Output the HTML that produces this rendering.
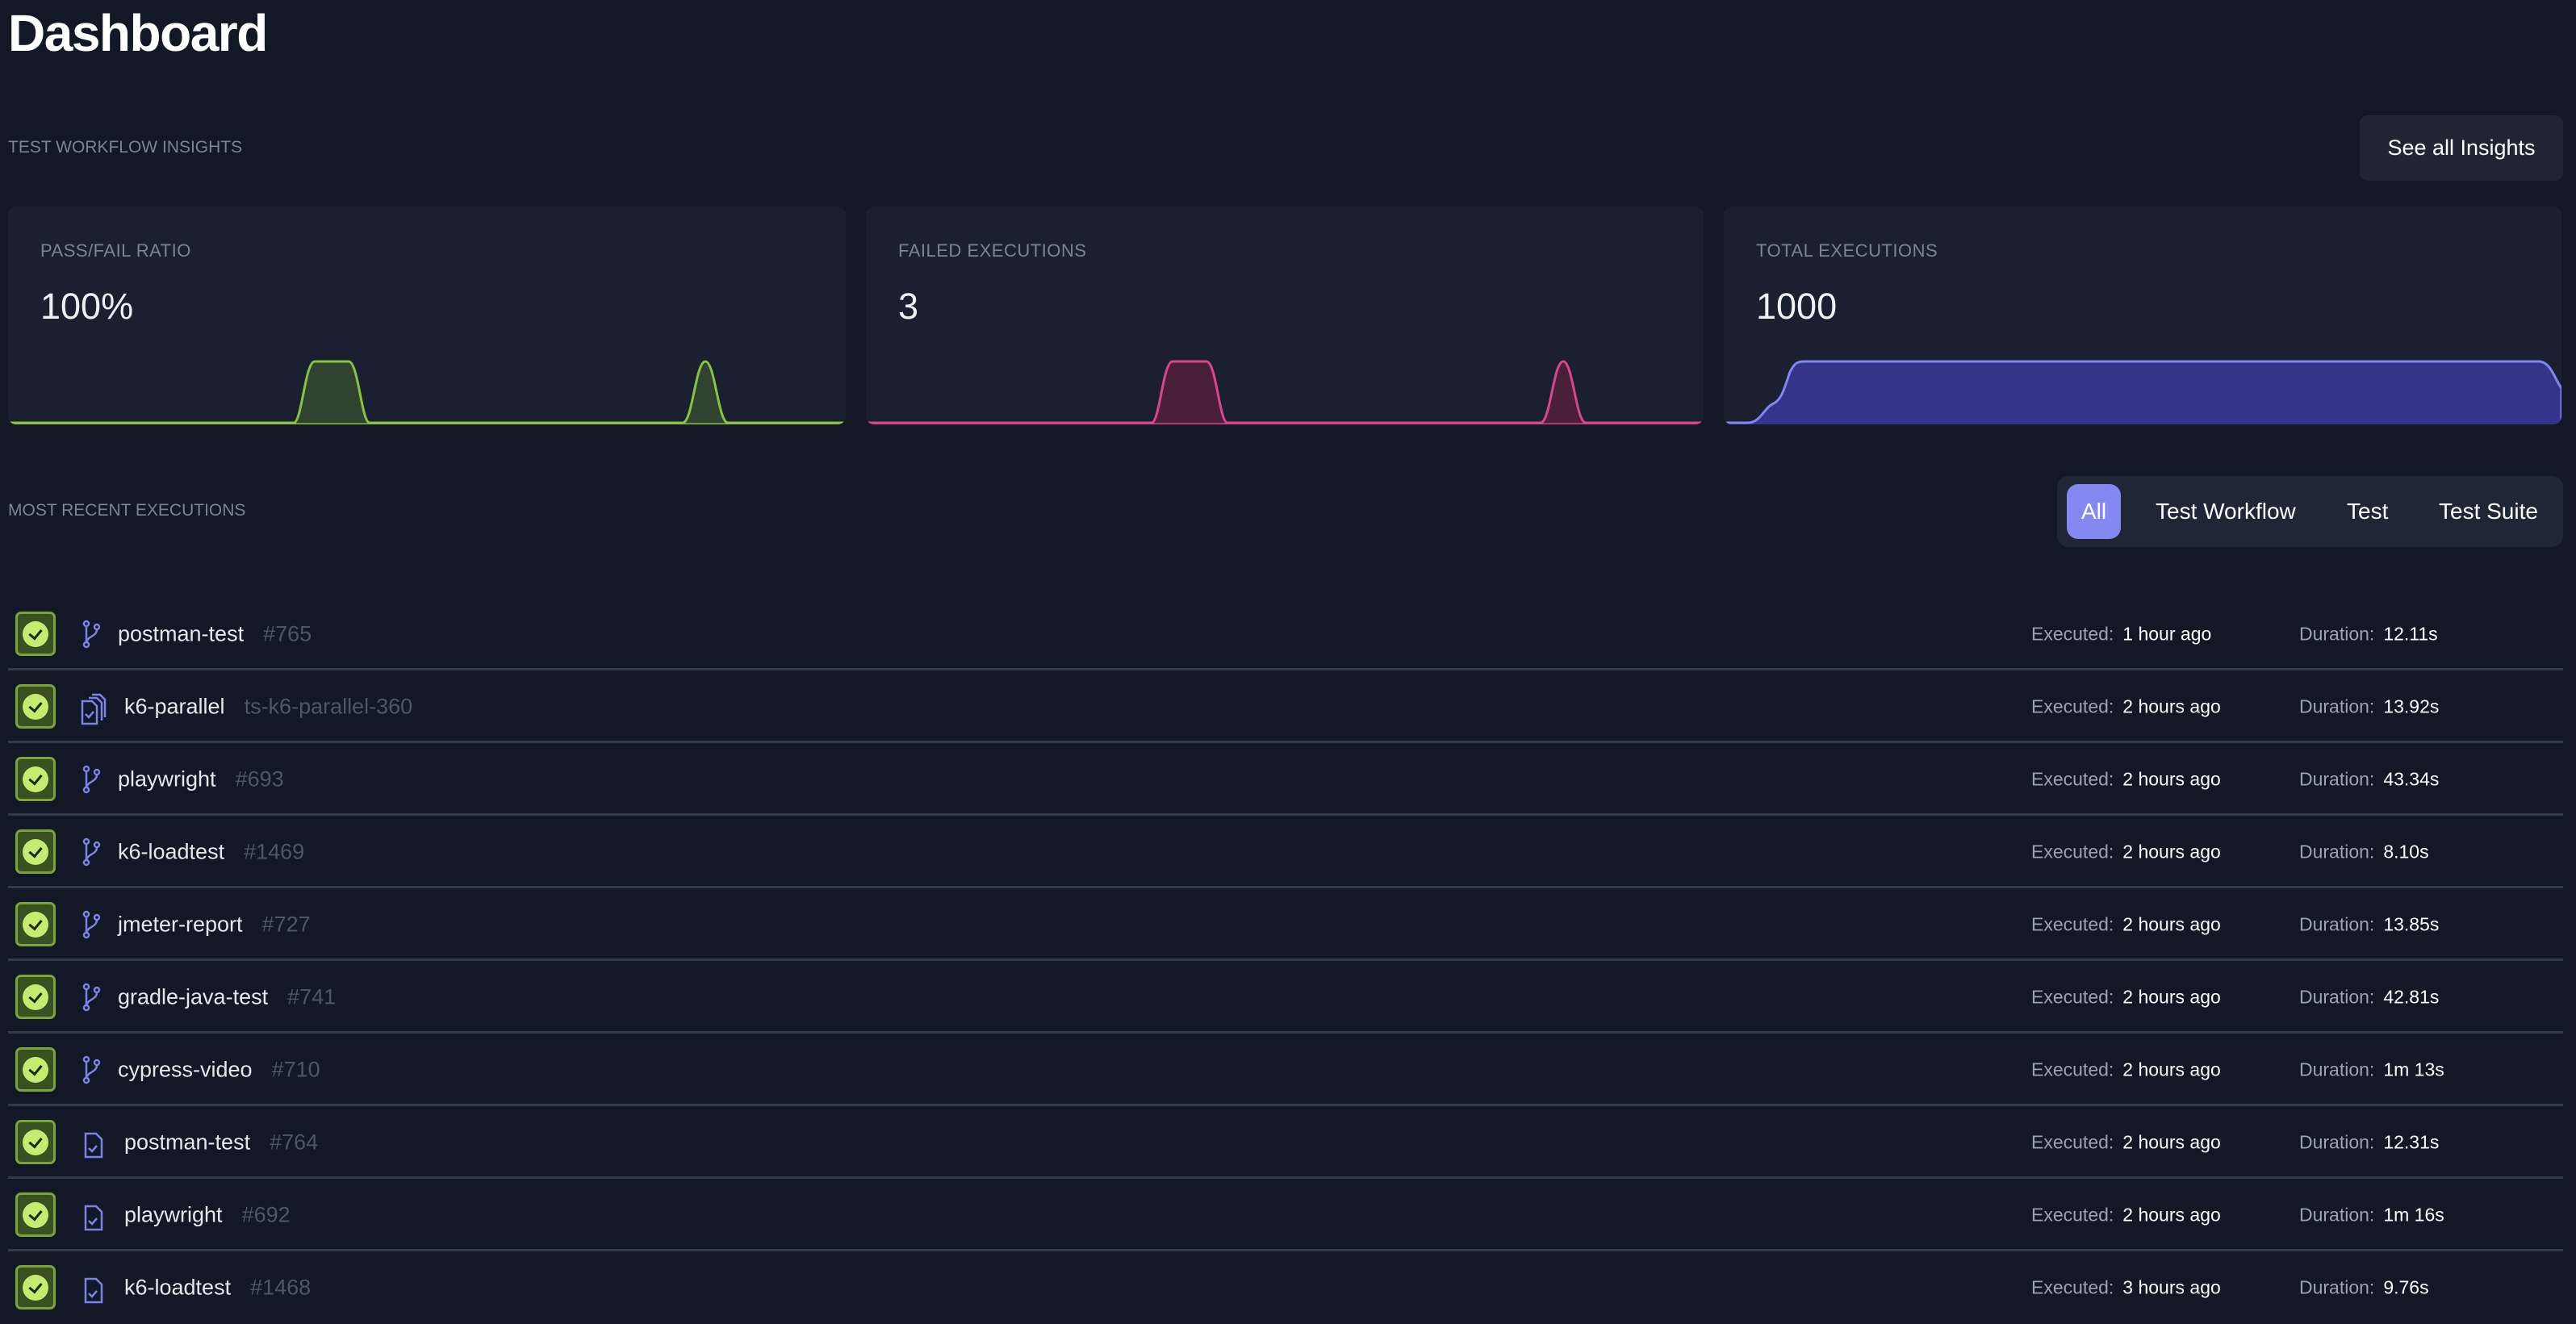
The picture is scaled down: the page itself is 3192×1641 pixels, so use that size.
<!DOCTYPE html>
<html><head><meta charset="utf-8"><style>
*{margin:0;padding:0;box-sizing:border-box}
body{width:3192px;height:1636px;background:#121826;font-family:"Liberation Sans",sans-serif;position:relative;overflow:hidden;color:#e5e7eb}
.a{position:absolute;white-space:nowrap}
.h1{left:10px;top:2px;font-size:64px;font-weight:bold;color:#fff;line-height:78px;letter-spacing:-1.5px}
.sec{font-size:21px;color:#7b8394;line-height:26px}
.btn{left:2924px;top:143px;width:252px;height:81px;background:#1f2533;border-radius:10px;color:#fff;font-size:27px;line-height:81px;text-align:center}
.card{top:256px;width:1038px;height:270px;background:#1a2030;border-radius:10px;overflow:hidden}
.card .lbl{position:absolute;left:40px;top:42px;font-size:22px;color:#7b8394;letter-spacing:.5px}
.card .val{position:absolute;left:40px;top:98px;font-size:45px;color:#eef0f4}
.card svg{position:absolute;left:0;top:0}
.grp{left:2549px;top:590px;width:627px;height:88px;background:#1f2636;border-radius:14px}
.all{left:2561px;top:600px;width:67px;height:68px;background:#8389f0;border-radius:14px;color:#fff;font-size:28px;line-height:68px;text-align:center}
.ft{top:634px;font-size:28px;color:#fff;line-height:1;transform:translateY(-50%)}
.row{left:10px;width:3166px;height:90px}
.sep{position:absolute;left:0;bottom:0;width:100%;height:3px;background:#333b4a}
.st{position:absolute;left:9px;top:17px;width:50px;height:55px;border:3px solid #7aa33a;background:#3a5020;border-radius:7px}
.st i{position:absolute;left:6px;top:9px;width:32px;height:32px;border-radius:50%;background:#c5ec70}
.st i:after{content:"";position:absolute;left:11px;top:7px;width:7px;height:12px;border:solid #1d2a10;border-width:0 3px 3px 0;transform:rotate(40deg)}
.ic{position:absolute;left:86px;top:26px}
.nm{position:absolute;top:45px;transform:translateY(-50%);font-size:27px;color:#e5e7eb}
.nm span{color:#4e5666;margin-left:24px}
.ex{position:absolute;left:2507px;top:45px;transform:translateY(-50%);font-size:23px;color:#9ca3af}
.du{position:absolute;left:2839px;top:45px;transform:translateY(-50%);font-size:23px;color:#9ca3af}
.ex b,.du b{font-weight:normal;color:#fff;margin-left:11px}
</style></head><body>
<div class="a h1">Dashboard</div>
<div class="a sec" style="left:10px;top:170px">TEST WORKFLOW INSIGHTS</div>
<div class="a btn">See all Insights</div>

<div class="a card" style="left:10px"><div class="lbl">PASS/FAIL RATIO</div><div class="val">100%</div>
<svg width="1038" height="270"><path d="M0,268 L354,268 C364,268 368,192 380,192 L422,192 C434,192 438,268 448,268 L836,268 C848,268 852,192 864,192 C876,192 880,268 892,268 L1038,268 L1038,270 L0,270Z" fill="#2f4330" stroke="#84c441" stroke-width="3"/></svg></div>
<div class="a card" style="left:1073px"><div class="lbl">FAILED EXECUTIONS</div><div class="val">3</div>
<svg width="1038" height="270"><path d="M0,268 L354,268 C364,268 368,192 380,192 L422,192 C434,192 438,268 448,268 L836,268 C848,268 852,192 864,192 C876,192 880,268 892,268 L1038,268 L1038,270 L0,270Z" fill="#4a1f3a" stroke="#d9468c" stroke-width="3"/></svg></div>
<div class="a card" style="left:2136px"><div class="lbl">TOTAL EXECUTIONS</div><div class="val">1000</div>
<svg width="1038" height="270"><path d="M0,268 L30,268 C45,268 50,250 60,245 C72,240 75,225 82,205 C88,193 92,192 100,192 L1010,192 C1025,192 1030,215 1038,225 L1038,272 L0,272Z" fill="#36338a" stroke="#8187f0" stroke-width="3"/></svg></div>

<div class="a sec" style="left:10px;top:620px">MOST RECENT EXECUTIONS</div>
<div class="a grp"></div>
<div class="a all">All</div>
<div class="a ft" style="left:2671px">Test Workflow</div>
<div class="a ft" style="left:2908px">Test</div>
<div class="a ft" style="left:3022px">Test Suite</div>

<div class="a row" style="top:741px"><div class="st"><i></i></div><svg class="ic" width="36" height="40"><g fill="none" stroke="#7c83e8" stroke-width="2.5"><circle cx="11" cy="6" r="3"/><circle cx="11" cy="32" r="3"/><circle cx="24" cy="10" r="3"/><path d="M11 9V29M24 13C24 22 13 21 11 29"/></g></svg><div class="nm" style="left:136px">postman-test<span>#765</span></div><div class="ex">Executed:<b>1 hour ago</b></div><div class="du">Duration:<b>12.11s</b></div><div class="sep"></div></div>
<div class="a row" style="top:831px"><div class="st"><i></i></div><svg class="ic" width="40" height="44"><g fill="none" stroke="#7c83e8" stroke-width="2.5"><path d="M18 4h10l6 6v22M14 8h10l6 6v22"/><path d="M6 12h12l6 6v22H6z"/><path d="M10 28l4 4 6-7"/></g></svg><div class="nm" style="left:144px">k6-parallel<span>ts-k6-parallel-360</span></div><div class="ex">Executed:<b>2 hours ago</b></div><div class="du">Duration:<b>13.92s</b></div><div class="sep"></div></div>
<div class="a row" style="top:921px"><div class="st"><i></i></div><svg class="ic" width="36" height="40"><g fill="none" stroke="#7c83e8" stroke-width="2.5"><circle cx="11" cy="6" r="3"/><circle cx="11" cy="32" r="3"/><circle cx="24" cy="10" r="3"/><path d="M11 9V29M24 13C24 22 13 21 11 29"/></g></svg><div class="nm" style="left:136px">playwright<span>#693</span></div><div class="ex">Executed:<b>2 hours ago</b></div><div class="du">Duration:<b>43.34s</b></div><div class="sep"></div></div>
<div class="a row" style="top:1011px"><div class="st"><i></i></div><svg class="ic" width="36" height="40"><g fill="none" stroke="#7c83e8" stroke-width="2.5"><circle cx="11" cy="6" r="3"/><circle cx="11" cy="32" r="3"/><circle cx="24" cy="10" r="3"/><path d="M11 9V29M24 13C24 22 13 21 11 29"/></g></svg><div class="nm" style="left:136px">k6-loadtest<span>#1469</span></div><div class="ex">Executed:<b>2 hours ago</b></div><div class="du">Duration:<b>8.10s</b></div><div class="sep"></div></div>
<div class="a row" style="top:1101px"><div class="st"><i></i></div><svg class="ic" width="36" height="40"><g fill="none" stroke="#7c83e8" stroke-width="2.5"><circle cx="11" cy="6" r="3"/><circle cx="11" cy="32" r="3"/><circle cx="24" cy="10" r="3"/><path d="M11 9V29M24 13C24 22 13 21 11 29"/></g></svg><div class="nm" style="left:136px">jmeter-report<span>#727</span></div><div class="ex">Executed:<b>2 hours ago</b></div><div class="du">Duration:<b>13.85s</b></div><div class="sep"></div></div>
<div class="a row" style="top:1191px"><div class="st"><i></i></div><svg class="ic" width="36" height="40"><g fill="none" stroke="#7c83e8" stroke-width="2.5"><circle cx="11" cy="6" r="3"/><circle cx="11" cy="32" r="3"/><circle cx="24" cy="10" r="3"/><path d="M11 9V29M24 13C24 22 13 21 11 29"/></g></svg><div class="nm" style="left:136px">gradle-java-test<span>#741</span></div><div class="ex">Executed:<b>2 hours ago</b></div><div class="du">Duration:<b>42.81s</b></div><div class="sep"></div></div>
<div class="a row" style="top:1281px"><div class="st"><i></i></div><svg class="ic" width="36" height="40"><g fill="none" stroke="#7c83e8" stroke-width="2.5"><circle cx="11" cy="6" r="3"/><circle cx="11" cy="32" r="3"/><circle cx="24" cy="10" r="3"/><path d="M11 9V29M24 13C24 22 13 21 11 29"/></g></svg><div class="nm" style="left:136px">cypress-video<span>#710</span></div><div class="ex">Executed:<b>2 hours ago</b></div><div class="du">Duration:<b>1m 13s</b></div><div class="sep"></div></div>
<div class="a row" style="top:1371px"><div class="st"><i></i></div><svg class="ic" width="40" height="44"><g fill="none" stroke="#7c83e8" stroke-width="2.5"><path d="M10 8h13l7 7v22H10z"/><path d="M14 26l4 4 6-7"/></g></svg><div class="nm" style="left:144px">postman-test<span>#764</span></div><div class="ex">Executed:<b>2 hours ago</b></div><div class="du">Duration:<b>12.31s</b></div><div class="sep"></div></div>
<div class="a row" style="top:1461px"><div class="st"><i></i></div><svg class="ic" width="40" height="44"><g fill="none" stroke="#7c83e8" stroke-width="2.5"><path d="M10 8h13l7 7v22H10z"/><path d="M14 26l4 4 6-7"/></g></svg><div class="nm" style="left:144px">playwright<span>#692</span></div><div class="ex">Executed:<b>2 hours ago</b></div><div class="du">Duration:<b>1m 16s</b></div><div class="sep"></div></div>
<div class="a row" style="top:1551px"><div class="st"><i></i></div><svg class="ic" width="40" height="44"><g fill="none" stroke="#7c83e8" stroke-width="2.5"><path d="M10 8h13l7 7v22H10z"/><path d="M14 26l4 4 6-7"/></g></svg><div class="nm" style="left:144px">k6-loadtest<span>#1468</span></div><div class="ex">Executed:<b>3 hours ago</b></div><div class="du">Duration:<b>9.76s</b></div></div>
</body></html>
